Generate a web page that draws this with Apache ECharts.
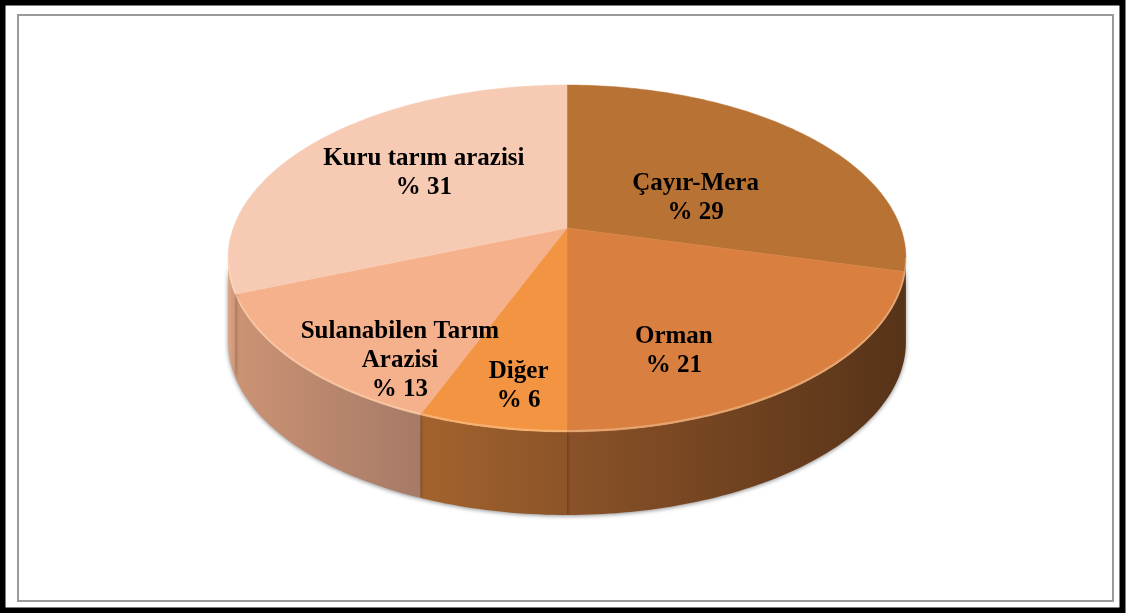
<!DOCTYPE html>
<html>
<head>
<meta charset="utf-8">
<script src="https://cdn.jsdelivr.net/npm/echarts@6/dist/echarts.min.js"></script>
<style>
  html, body { margin: 0; padding: 0; background: #fff; }
  #chart { width: 1127px; height: 613px; }
</style>
</head>
<body>
<div id="chart"></div>
<script>
  // land use shares, clockwise from 12 o'clock
  var categories = ['Çayır-Mera', 'Orman', 'Diğer', 'Sulanabilen Tarım\nArazisi', 'Kuru tarım arazisi'];
  var shares = [29, 21, 6, 13, 31];

  var topColors = ['#b87234', '#d98040', '#f39443', '#f4b18b', '#f7cbb3'];
  var sideColors = [['#8a5228', '#7a4823'], ['#8a5228', '#573318'], ['#a3632e', '#8c5428'], ['#cc9374', '#a67a67'], ['#dba98b', '#cc9374']];
  // label spot as fraction of the way from the centre to the rim at the slice's mid angle [x, y]
  var labelPlace = [[0.54, 0.32], [0.45, 0.80], [0.64, 0.79], [0.62, 0.98], [0.57, 0.64]];

  // tilted disc seen in perspective
  var cx = 567, cy = 228, A = 333.7, C = 168.1, k = 0.1758, depth = 83;
  var total = shares.reduce(function (a, b) { return a + b; }, 0);
  var sideFrom = Math.acos(-k) * 180 / Math.PI, sideTo = 360 - sideFrom;

  function pt(deg, r, dy) {
    var t = deg * Math.PI / 180;
    var u = r * Math.sin(t), v = -r * Math.cos(t), w = 1 - k * v;
    return [cx + A * u / w, cy + C * v / w + (dy || 0)];
  }

  function arc(a1, a2, dy) {
    var pts = [];
    var n = Math.max(4, Math.ceil(a2 - a1));
    for (var i = 0; i <= n; i++) {
      pts.push(pt(a1 + (a2 - a1) * i / n, 1, dy));
    }
    return pts;
  }

  function renderItem(params, api) {
    var idx = params.dataIndex;
    var before = 0;
    for (var i = 0; i < idx; i++) before += shares[i];
    var a1 = before / total * 360;
    var a2 = a1 + api.value(0) / total * 360;
    var children = [];

    // front wall
    var s = Math.max(a1, sideFrom), e = Math.min(a2, sideTo);
    if (e > s) {
      var topArc = arc(s, e, 0);
      var botArc = arc(s, e, depth).reverse();
      var xs = topArc.map(function (p) { return p[0]; });
      var minX = Math.min.apply(null, xs), maxX = Math.max.apply(null, xs);
      children.push({
        type: 'polygon',
        shape: { points: topArc.concat(botArc) },
        style: {
          fill: {
            type: 'linear', global: true,
            x: minX, y: 0, x2: maxX, y2: 0,
            colorStops: [{ offset: 0, color: sideColors[idx][0] }, { offset: 1, color: sideColors[idx][1] }]
          },
          shadowBlur: 4,
          shadowColor: 'rgba(0,0,0,0.45)',
          shadowOffsetY: 1
        }
      });
    }

    // top face
    children.push({
      type: 'polygon',
      shape: { points: [[cx, cy]].concat(arc(a1, a2, 0)) },
      style: { fill: topColors[idx], stroke: topColors[idx], lineWidth: 0.5 }
    });

    // soft highlight where top meets the wall
    if (e > s) {
      children.push({
        type: 'polyline',
        shape: { points: arc(s, e, -1) },
        style: { stroke: 'rgba(255,235,200,0.35)', lineWidth: 2, fill: null }
      });
    }

    // label
    var mid = (a1 + a2) / 2;
    var rim = pt(mid, 1, 0);
    var lp = labelPlace[idx];
    children.push({
      type: 'text',
      z2: 10,
      style: {
        x: cx + lp[0] * (rim[0] - cx),
        y: cy + lp[1] * (rim[1] - cy),
        text: categories[idx] + '\n% ' + api.value(0),
        align: 'center',
        verticalAlign: 'middle',
        fontFamily: '"Liberation Serif", "Times New Roman", serif',
        fontWeight: 'bold',
        fontSize: 25,
        lineHeight: 29,
        fill: '#000'
      }
    });

    return { type: 'group', children: children };
  }

  var chart = echarts.init(document.getElementById('chart'), null, { renderer: 'canvas' });
  chart.setOption({
    backgroundColor: '#fff',
    animation: false,
    graphic: [
      { type: 'rect', shape: { x: 2.5, y: 2.5, width: 1120, height: 608 }, style: { fill: 'none', stroke: '#000', lineWidth: 6 } },
      { type: 'rect', shape: { x: 18, y: 15, width: 1095, height: 586 }, style: { fill: 'none', stroke: '#9a9a9a', lineWidth: 2 }, z: -1 }
    ],
    series: [{
      type: 'custom',
      coordinateSystem: 'none',
      renderItem: renderItem,
      data: shares.map(function (v) { return [v]; })
    }]
  });
</script>
</body>
</html>
